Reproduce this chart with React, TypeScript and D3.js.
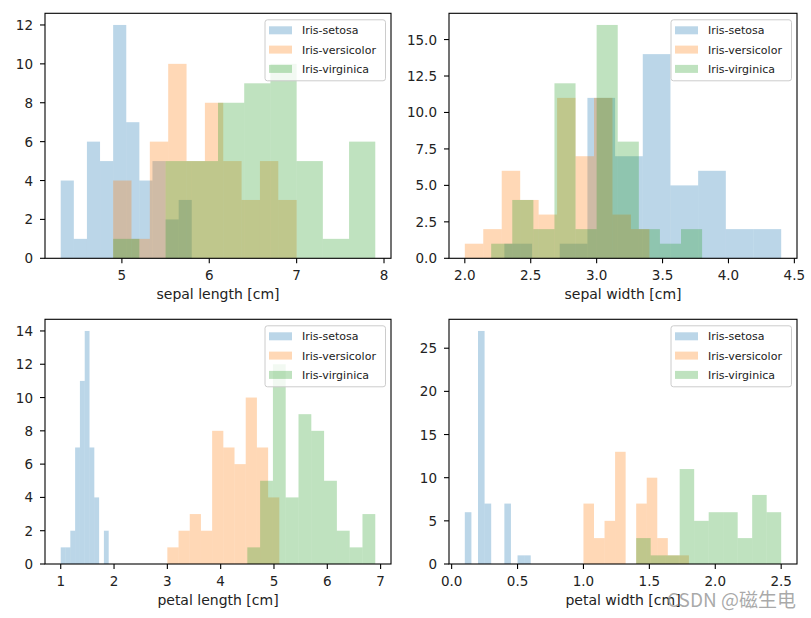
import React from "react";
import * as d3 from "d3";

const species = ["Iris-setosa", "Iris-versicolor", "Iris-virginica"];
const colors = ["#1f77b4", "#ff7f0e", "#2ca02c"];

// per-feature: data range (min,max) of each species and the 10 bin counts
const sepalLengthRanges = [[4.3, 5.8], [4.9, 7.0], [4.9, 7.9]];
const sepalLengthCounts = [
  [4, 1, 6, 5, 12, 7, 4, 5, 2, 3],
  [4, 1, 6, 10, 5, 8, 5, 3, 5, 3],
  [1, 0, 5, 5, 8, 9, 10, 5, 1, 6],
];
const sepalWidthRanges = [[2.3, 4.4], [2.0, 3.4], [2.2, 3.8]];
const sepalWidthCounts = [
  [1, 0, 1, 11, 7, 14, 5, 6, 2, 2],
  [1, 2, 6, 4, 3, 11, 7, 11, 3, 2],
  [1, 4, 2, 12, 2, 16, 8, 2, 1, 2],
];
const petalLengthRanges = [[1.0, 1.9], [3.0, 5.1], [4.5, 6.9]];
const petalLengthCounts = [
  [1, 1, 2, 7, 11, 14, 7, 4, 0, 2],
  [1, 2, 3, 2, 8, 7, 6, 10, 7, 4],
  [1, 5, 12, 4, 9, 8, 5, 2, 1, 3],
];
const petalWidthRanges = [[0.1, 0.6], [1.0, 1.8], [1.4, 2.5]];
const petalWidthCounts = [
  [6, 0, 27, 7, 0, 0, 7, 0, 1, 1],
  [7, 3, 5, 13, 0, 7, 10, 3, 1, 1],
  [3, 1, 1, 11, 5, 6, 6, 3, 8, 6],
];

const xLabels = ["sepal length [cm]", "sepal width [cm]", "petal length [cm]", "petal width [cm]"];
const xTicks = [[5, 6, 7, 8], [2.0, 2.5, 3.0, 3.5, 4.0, 4.5], [1, 2, 3, 4, 5, 6, 7], [0.0, 0.5, 1.0, 1.5, 2.0, 2.5]];
const yTicks = [[0, 2, 4, 6, 8, 10, 12], [0, 2.5, 5, 7.5, 10, 12.5, 15], [0, 2, 4, 6, 8, 10, 12, 14], [0, 5, 10, 15, 20, 25]];
const xFormats = ["d", ".1f", "d", ".1f"];
const yFormats = ["d", ".1f", "d", "d"];

const panelsData = [
  { ranges: sepalLengthRanges, counts: sepalLengthCounts },
  { ranges: sepalWidthRanges, counts: sepalWidthCounts },
  { ranges: petalLengthRanges, counts: petalLengthCounts },
  { ranges: petalWidthRanges, counts: petalWidthCounts },
];

const boxes = [
  { x: 45, y: 13.3, w: 346, h: 245 },
  { x: 449, y: 13.3, w: 348, h: 245 },
  { x: 45, y: 319.3, w: 346, h: 244.7 },
  { x: 449, y: 319.3, w: 348, h: 244.7 },
];

const FONT = "DejaVu Sans, sans-serif";

function Panel({ idx }: { idx: number }) {
  const { ranges, counts } = panelsData[idx];
  const b = boxes[idx];
  const lo = d3.min(ranges, (r) => r[0])!;
  const hi = d3.max(ranges, (r) => r[1])!;
  const pad = (hi - lo) * 0.05;
  const x = d3.scaleLinear().domain([lo - pad, hi + pad]).range([b.x, b.x + b.w]);
  const ymax = d3.max(counts.flat())! * 1.05;
  const y = d3.scaleLinear().domain([0, ymax]).range([b.y + b.h, b.y]);
  const xf = d3.format(xFormats[idx]);
  const yf = d3.format(yFormats[idx]);
  const bottom = b.y + b.h;

  const bars: any[] = [];
  counts.forEach((c, s) => {
    const [r0, r1] = ranges[s];
    const n = c.length;
    const step = (r1 - r0) / n;
    c.forEach((v, i) => {
      if (v <= 0) return;
      const e0 = r0 + i * step;
      const e1 = r0 + (i + 1) * step;
      bars.push(
        <rect
          key={`${s}-${i}`}
          x={x(e0)}
          y={y(v)}
          width={x(e1) - x(e0)}
          height={y(0) - y(v)}
          fill={colors[s]}
          fillOpacity={0.3}
        />
      );
    });
  });

  const lx = b.x + b.w - 126;
  const ly = b.y + 6.5;

  return (
    <g>
      {bars}
      {/* spines */}
      <rect x={b.x} y={b.y} width={b.w} height={b.h} fill="none" stroke="#000" strokeWidth={1.1} />
      {/* x ticks */}
      {xTicks[idx].map((t) => (
        <g key={"x" + t}>
          <line x1={x(t)} x2={x(t)} y1={bottom} y2={bottom + 5} stroke="#000" strokeWidth={1.1} />
          <text x={x(t)} y={bottom + 22} textAnchor="middle" fontSize={13.5} fontFamily={FONT} fill="#222">
            {xf(t)}
          </text>
        </g>
      ))}
      {yTicks[idx].map((t) => (
        <g key={"y" + t}>
          <line x1={b.x - 5} x2={b.x} y1={y(t)} y2={y(t)} stroke="#000" strokeWidth={1.1} />
          <text x={b.x - 12} y={y(t) + 5} textAnchor="end" fontSize={13.5} fontFamily={FONT} fill="#222">
            {yf(t)}
          </text>
        </g>
      ))}
      <text x={b.x + b.w / 2} y={bottom + 41} textAnchor="middle" fontSize={14} fontFamily={FONT} fill="#222">
        {xLabels[idx]}
      </text>
      {/* legend */}
      <rect x={lx} y={ly} width={120.5} height={61} rx={2.5} fill="#fff" fillOpacity={0.8} stroke="#cccccc" strokeWidth={1} />
      {species.map((name, s) => (
        <g key={name}>
          <rect x={lx + 4} y={ly + 10.5 + s * 19.3 - 4} width={23} height={8} fill={colors[s]} fillOpacity={0.3} />
          <text x={lx + 37} y={ly + 10.5 + s * 19.3 + 4} fontSize={11} fontFamily={FONT} fill="#222">
            {name}
          </text>
        </g>
      ))}
    </g>
  );
}

export default function App() {
  return (
    <svg width={811} height={618} style={{ position: "absolute", left: 0, top: 0, background: "#fff" }}>
      <rect width={811} height={618} fill="#fff" />
      {[0, 1, 2, 3].map((i) => (
        <Panel key={i} idx={i} />
      ))}
      <text x={667} y={607} fontSize={19} fontFamily="Noto Sans CJK SC, sans-serif" fill="#9a9a9a" fillOpacity={0.85}>
        CSDN @磁生电
      </text>
    </svg>
  );
}
